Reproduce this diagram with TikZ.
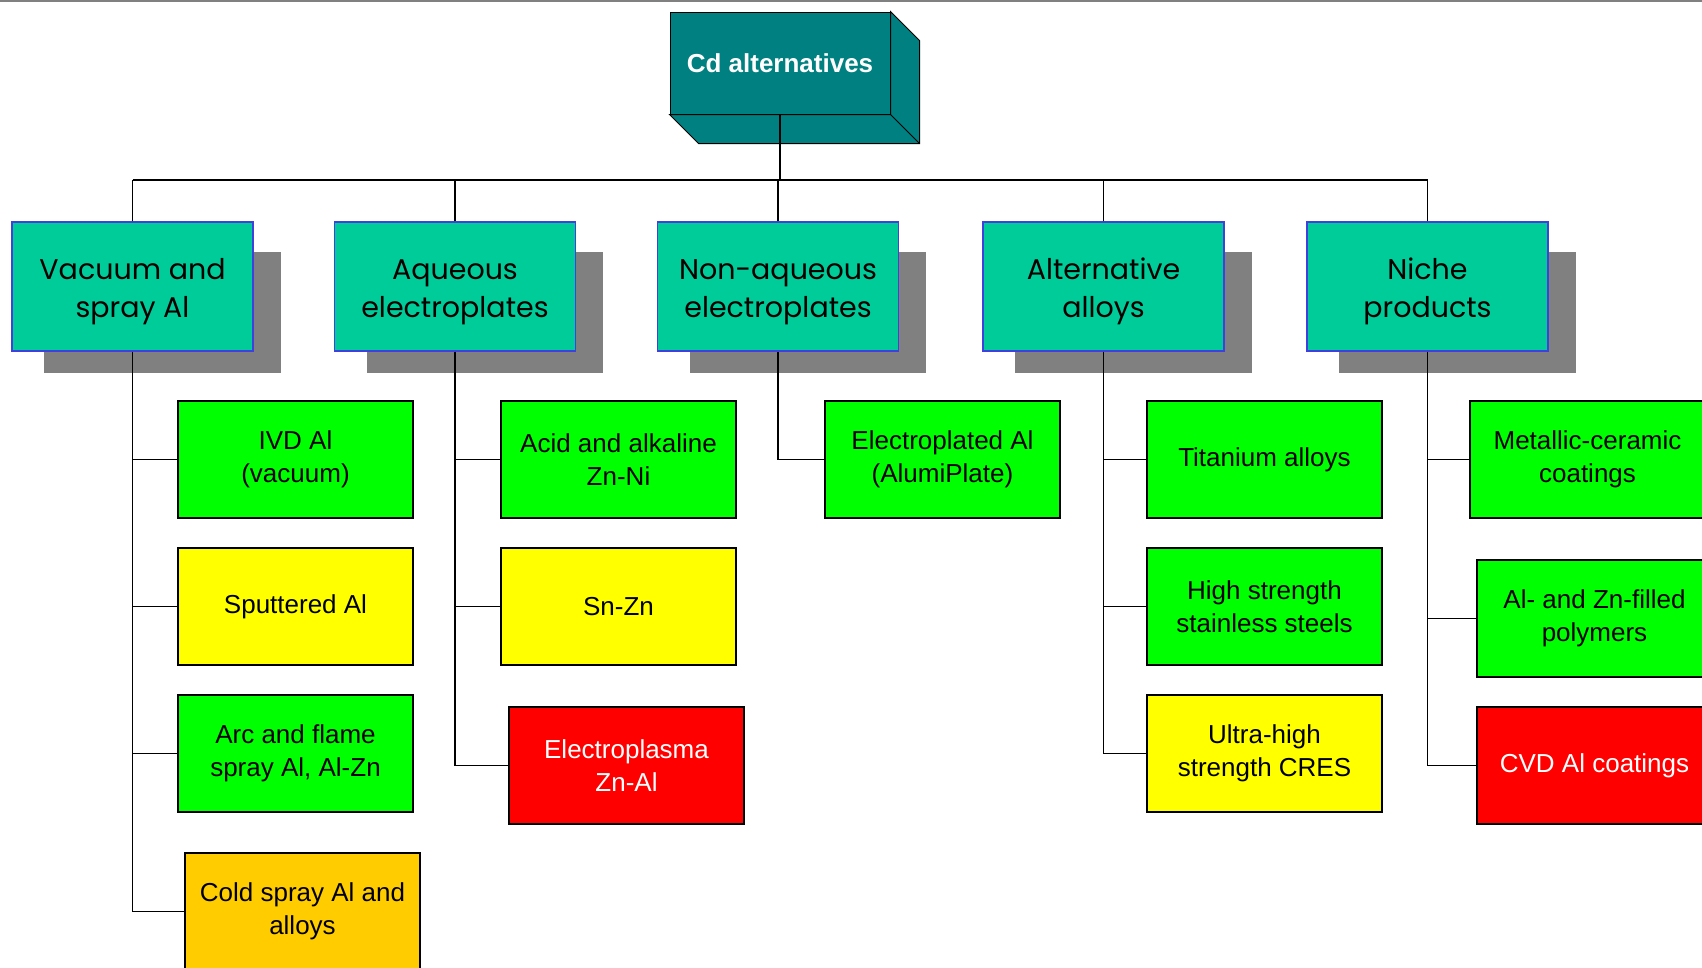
\documentclass[tikz,border=0pt]{standalone}
\usepackage{fontspec}
\setmainfont{Liberation Sans}
\newfontfamily\headfont{Poppins}
\usetikzlibrary{backgrounds}
\definecolor{titleteal}{RGB}{0,128,128}
\definecolor{headgreen}{RGB}{0,204,153}
\definecolor{headblue}{RGB}{64,64,224}
\definecolor{shadowgray}{RGB}{128,128,128}
\definecolor{okgreen}{RGB}{0,255,0}
\definecolor{fairyellow}{RGB}{255,255,0}
\definecolor{coldorange}{RGB}{255,204,0}
\definecolor{poorred}{RGB}{255,0,0}
\newcommand{\headstrut}{\rule{0pt}{32pt}}

\tikzset{
  titlebox/.style={draw=black, line width=1pt, fill=titleteal, text=white, minimum width=220pt, minimum height=102pt, inner sep=0pt, font=\bfseries\fontsize{26}{30}\selectfont},
  headbox/.style={draw=headblue, line width=1.5pt, fill=headgreen, minimum width=241pt, minimum height=129pt, inner sep=0pt, align=center, font=\headfont\fontsize{28.5}{38}\selectfont},
  itembox/.style={draw=black, line width=2pt, minimum width=235pt, minimum height=117pt, inner sep=0pt, align=center, anchor=north west, font=\fontsize{26}{32.5}\selectfont},
  link/.style={line width=1.2pt}
}

\begin{document}
\begin{tikzpicture}[x=1pt, y=-1pt]
  \useasboundingbox (0,0) rectangle (1702,967);
  \clip (0,0) rectangle (1702,967);
  \draw[shadowgray, line width=2.5pt] (0,1) -- (1702,1);

  % Raiz
  \node[titlebox] (title) at (780,63) {Cd alternatives};

  % Categorias
  \node[headbox] (vac) at (132.5,286.5) {\headstrut Vacuum and\\spray Al};
  \node[headbox] (aqu) at (455,286.5) {\headstrut Aqueous\\electroplates};
  \node[headbox] (non) at (778,286.5) {\headstrut Non-aqueous\\electroplates};
  \node[headbox] (alt) at (1103.5,286.5) {\headstrut Alternative\\alloys};
  \node[headbox] (nic) at (1427.5,286.5) {\headstrut Niche\\products};

  % Opciones
  \node[itembox, fill=okgreen] (ivd) at (177,400) {IVD Al\\(vacuum)};
  \node[itembox, fill=fairyellow] (spu) at (177,547) {Sputtered Al};
  \node[itembox, fill=okgreen] (arc) at (177,694) {Arc and flame\\spray Al, Al-Zn};
  \node[itembox, fill=coldorange] (cold) at (184,852) {Cold spray Al and\\alloys};
  \node[itembox, fill=okgreen] (znni) at (500,400) {Acid and alkaline\\Zn-Ni};
  \node[itembox, fill=fairyellow] (snzn) at (500,547) {Sn-Zn};
  \node[itembox, fill=poorred, text=white] (plasma) at (508,706) {Electroplasma\\Zn-Al};
  \node[itembox, fill=okgreen] (alumi) at (824,400) {Electroplated Al\\(AlumiPlate)};
  \node[itembox, fill=okgreen] (ti) at (1146,400) {Titanium alloys};
  \node[itembox, fill=okgreen] (hss) at (1146,547) {High strength\\stainless steels};
  \node[itembox, fill=fairyellow] (cres) at (1146,694) {Ultra-high\\strength CRES};
  \node[itembox, fill=okgreen] (mcc) at (1469,400) {Metallic-ceramic\\coatings};
  \node[itembox, fill=okgreen] (poly) at (1476,559) {Al- and Zn-filled\\polymers};
  \node[itembox, fill=poorred, text=white] (cvd) at (1476,706) {CVD Al coatings};

  % Caras 3D y sombras
  \begin{scope}[on background layer]
    \filldraw[titleteal, draw=black, line width=1pt] (title.south west) -- ++(29,29) -- ([shift={(29,29)}]title.south east) -- ([shift={(29,29)}]title.north east) -- (title.north east) -- (title.south east) -- cycle;
    \draw[line width=1pt] (title.south east) -- ++(29,29);
    \foreach \h in {vac, aqu, non, alt, nic}
      \fill[shadowgray] ([shift={(33,31)}]\h.north west) rectangle ([shift={(27,21)}]\h.south east);
  \end{scope}

  % Conectores
  \coordinate (busL) at (132.5,180);
  \coordinate (busR) at (1427.5,180);
  \draw[link] (busL) -- (busR);
  \draw[link] (title.south) -- (title.south |- busL);
  \foreach \h in {vac, aqu, non, alt, nic}
    \draw[link] (\h.north) -- (\h.north |- busL);
  \foreach \c in {ivd, spu, arc, cold}
    \draw[link] (vac.south) |- (\c.west);
  \foreach \c in {znni, snzn, plasma}
    \draw[link] (aqu.south) |- (\c.west);
  \draw[link] (non.south) |- (alumi.west);
  \foreach \c in {ti, hss, cres}
    \draw[link] (alt.south) |- (\c.west);
  \foreach \c in {mcc, poly, cvd}
    \draw[link] (nic.south) |- (\c.west);
\end{tikzpicture}
\end{document}
